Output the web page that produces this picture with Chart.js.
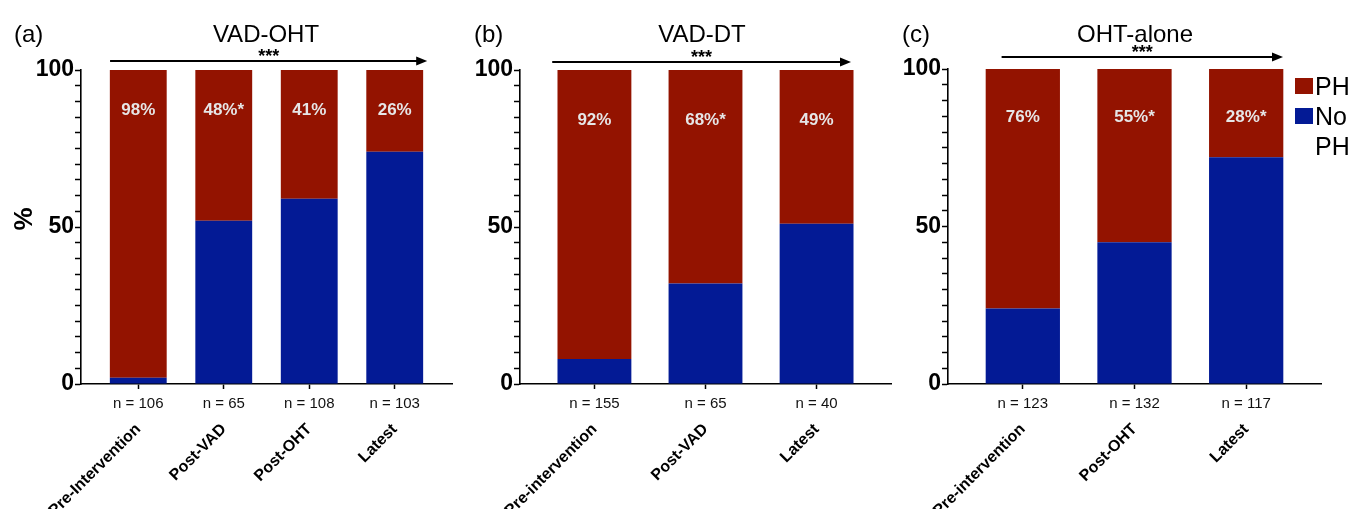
<!DOCTYPE html>
<html>
<head>
<meta charset="utf-8">
<script src="https://cdn.jsdelivr.net/npm/chart.js@4.4.1/dist/chart.umd.min.js"></script>
<style>
  html, body { margin: 0; padding: 0; background: #fff; }
  #wrap { position: relative; width: 1365px; height: 509px; overflow: hidden; background: #fff;
          font-family: "Liberation Sans", Arial, Helvetica, sans-serif; color: #000; }
  canvas { position: absolute; top: 0; }
  .txt { position: absolute; white-space: nowrap; }
  .title { font-size: 24px; text-align: center; width: 300px; height: 30px; line-height: 30px; }
  .letter { font-size: 24px; height: 30px; line-height: 30px; }
  .swatch { position: absolute; width: 18px; height: 16px; }
  .leg { font-size: 25px; line-height: 30px; }
</style>
</head>
<body>
<div id="wrap">
  <canvas id="chartA" width="470" height="509" style="left:0px"></canvas>
  <canvas id="chartB" width="440" height="509" style="left:462px"></canvas>
  <canvas id="chartC" width="480" height="509" style="left:885px"></canvas>

  <div class="txt letter" style="left:14px; top:19px">(a)</div>
  <div class="txt title" style="left:116px; top:19px">VAD-OHT</div>
  <div class="txt letter" style="left:474px; top:19px">(b)</div>
  <div class="txt title" style="left:552px; top:19px">VAD-DT</div>
  <div class="txt letter" style="left:902px; top:19px">(c)</div>
  <div class="txt title" style="left:985px; top:19px">OHT-alone</div>

  <div class="swatch" style="left:1295px; top:78px; background:#931300"></div>
  <div class="txt leg" style="left:1315px; top:71px">PH</div>
  <div class="swatch" style="left:1295px; top:108px; background:#031a95"></div>
  <div class="txt leg" style="left:1315px; top:101px">No<br>PH</div>
</div>
<script>
// Panel (a): VAD-OHT
const vadOhtCategories = ['Pre-Intervention', 'Post-VAD', 'Post-OHT', 'Latest'];
const vadOhtCounts = ['n = 106', 'n = 65', 'n = 108', 'n = 103'];
const vadOhtPH = [98, 48, 41, 26];
const vadOhtNoPH = [2, 52, 59, 74];
const vadOhtSig = ['', '*', '', ''];

// Panel (b): VAD-DT
const vadDtCategories = ['Pre-intervention', 'Post-VAD', 'Latest'];
const vadDtCounts = ['n = 155', 'n = 65', 'n = 40'];
const vadDtPH = [92, 68, 49];
const vadDtNoPH = [8, 32, 51];
const vadDtSig = ['', '*', ''];

// Panel (c): OHT-alone
const ohtCategories = ['Pre-intervention', 'Post-OHT', 'Latest'];
const ohtCounts = ['n = 123', 'n = 132', 'n = 117'];
const ohtPH = [76, 55, 28];
const ohtNoPH = [24, 45, 72];
const ohtSig = ['', '*', '*'];

// Y axis: 0-100 %, minor ticks every 5, labels at these values
const yLabelledTicks = [0, 50, 100];

const FONT = '"Liberation Sans", Arial, Helvetica, sans-serif';
const RED = '#931300';
const BLUE = '#031a95';

function panelAnnotations(p) {
  return {
    id: 'panelAnnotations',
    afterDatasetsDraw(chart) {
      const ctx = chart.ctx;
      const area = chart.chartArea;
      const xs = chart.scales.x;
      const phMeta = chart.getDatasetMeta(1);
      ctx.save();
      // percentage of PH on each bar
      ctx.fillStyle = '#e6e6e6';
      ctx.font = 'bold 17px ' + FONT;
      ctx.textAlign = 'center';
      ctx.textBaseline = 'middle';
      phMeta.data.forEach((bar, i) => {
        ctx.fillText(p.ph[i] + '%' + p.sig[i], bar.x, area.top + p.labelOffset);
      });
      // trend arrow with significance stars
      const x0 = xs.getPixelForValue(p.arrowFrom);
      const x1 = xs.getPixelForValue(p.arrowTo);
      const y = p.arrowY;
      ctx.strokeStyle = '#000';
      ctx.fillStyle = '#000';
      ctx.lineWidth = 1.8;
      ctx.beginPath();
      ctx.moveTo(x0, y);
      ctx.lineTo(x1 - 6, y);
      ctx.stroke();
      ctx.beginPath();
      ctx.moveTo(x1, y);
      ctx.lineTo(x1 - 11, y - 4.5);
      ctx.lineTo(x1 - 11, y + 4.5);
      ctx.closePath();
      ctx.fill();
      ctx.font = 'bold 18px ' + FONT;
      ctx.textBaseline = 'alphabetic';
      ctx.fillText('***', (x0 + x1) / 2, y + p.starsDy);
      // y axis title
      if (p.yTitle) {
        ctx.translate(p.yTitle.x, p.yTitle.y);
        ctx.rotate(-Math.PI / 2);
        ctx.font = 'bold 26px ' + FONT;
        ctx.textBaseline = 'middle';
        ctx.fillText(p.yTitle.text, 0, 0);
      }
      ctx.restore();
    }
  };
}

function makePanel(canvasId, p) {
  const n = p.categories.length;
  const idx = p.categories.map((_, i) => i);
  const pad = 0.67;
  return new Chart(document.getElementById(canvasId), {
    type: 'bar',
    data: {
      datasets: [
        { label: 'No PH', data: idx.map(i => ({ x: i, y: p.noPh[i] })), backgroundColor: BLUE },
        { label: 'PH', data: idx.map(i => ({ x: i, y: p.ph[i] })), backgroundColor: RED }
      ]
    },
    options: {
      responsive: false,
      animation: false,
      events: [],
      barPercentage: 0.665,
      categoryPercentage: 1,
      layout: { padding: { top: p.top, right: p.padRight, left: 0, bottom: 0 } },
      plugins: { legend: { display: false }, tooltip: { enabled: false }, title: { display: false } },
      scales: {
        x: {
          type: 'linear',
          stacked: true,
          offset: false,
          min: -pad,
          max: n - 1 + pad,
          afterBuildTicks: s => { s.ticks = idx.map(v => ({ value: v })); },
          afterFit: s => { s.height = 30; },
          border: { display: true, color: '#000', width: 1.6 },
          grid: { display: true, offset: false, drawOnChartArea: false, drawTicks: true, tickLength: 5, tickColor: '#000', tickWidth: 1.5 },
          ticks: {
            autoSkip: false, maxRotation: 0, minRotation: 0, padding: 6, color: '#111',
            font: { family: FONT, size: 15 },
            callback: v => p.counts[v]
          }
        },
        x2: {
          type: 'linear',
          position: 'bottom',
          offset: false,
          min: -pad,
          max: n - 1 + pad,
          afterBuildTicks: s => { s.ticks = idx.map(v => ({ value: v })); },
          afterFit: s => { s.height = 95; },
          border: { display: false },
          grid: { display: false, offset: false },
          ticks: {
            autoSkip: false, maxRotation: 45, minRotation: 45, padding: -2, labelOffset: 0, color: '#000',
            font: { family: FONT, size: 16, weight: 'bold' },
            callback: v => p.categories[v]
          }
        },
        y: {
          stacked: true,
          min: 0,
          max: 100,
          afterFit: s => { s.width = p.yWidth; },
          border: { display: true, color: '#000', width: 1.6 },
          grid: { display: true, drawOnChartArea: false, drawTicks: true, tickLength: 6, tickColor: '#000', tickWidth: 1.5 },
          ticks: {
            stepSize: 5, autoSkip: false, padding: 1, color: '#000',
            font: { family: FONT, size: 23, weight: 'bold' },
            callback: v => (yLabelledTicks.includes(v) ? String(v) : '')
          }
        }
      }
    },
    plugins: [panelAnnotations(p)]
  });
}

makePanel('chartA', {
  categories: vadOhtCategories, counts: vadOhtCounts, ph: vadOhtPH, noPh: vadOhtNoPH, sig: vadOhtSig,
  top: 70, yWidth: 81, padRight: 18, labelOffset: 40,
  arrowFrom: -0.33, arrowTo: 3.38, arrowY: 61, starsDy: 1,
  yTitle: { text: '%', x: 25, y: 219 }
});
makePanel('chartB', {
  categories: vadDtCategories, counts: vadDtCounts, ph: vadDtPH, noPh: vadDtNoPH, sig: vadDtSig,
  top: 70, yWidth: 58, padRight: 11, labelOffset: 50,
  arrowFrom: -0.38, arrowTo: 2.31, arrowY: 62, starsDy: 1
});
makePanel('chartC', {
  categories: ohtCategories, counts: ohtCounts, ph: ohtPH, noPh: ohtNoPH, sig: ohtSig,
  top: 69, yWidth: 63, padRight: 44, labelOffset: 48,
  arrowFrom: -0.19, arrowTo: 2.33, arrowY: 57, starsDy: 1
});
</script>
</body>
</html>
